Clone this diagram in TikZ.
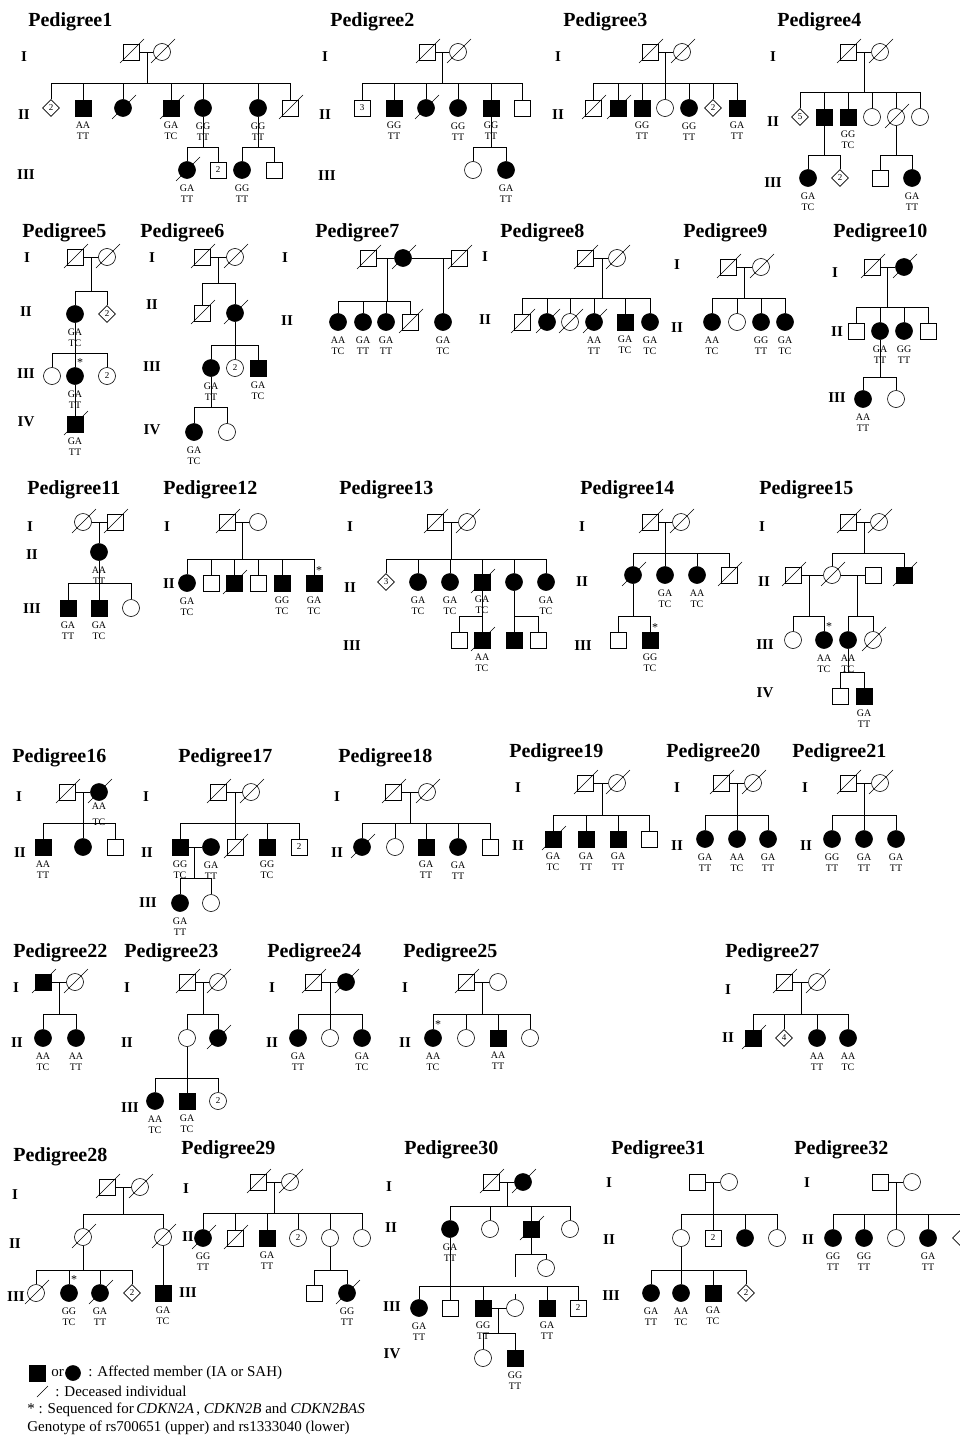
\documentclass[tikz,border=0pt]{standalone}
\usepackage{fontspec}
\setmainfont{Liberation Serif}
\usetikzlibrary{shapes.geometric}

\begin{document}
\begin{tikzpicture}[
    x=1pt, y=-1pt, line width=0.6pt,
    ttl/.style={anchor=west, inner sep=0pt, font=\fontsize{20}{20}\selectfont\bfseries},
    gen/.style={inner sep=0pt, font=\fontsize{15}{15}\selectfont\bfseries},
    ind/.style={draw, fill=white, inner sep=0pt, font=\fontsize{9}{9}\selectfont},
    m/.style={ind, rectangle, minimum size=16pt},
    f/.style={ind, circle, minimum size=17pt},
    u/.style={ind, diamond, minimum size=17pt},
    aff/.style={fill=black},
    gt/.style={inner sep=0pt, yshift=-5.5pt, align=center, font=\fontsize{10}{11}\selectfont},
    g/.style 2 args={label={[gt]below:#1\\#2}},
    st/.style={label={[inner sep=0pt, xshift=5pt, font=\fontsize{12}{12}\selectfont]above:*}},
    lg/.style={anchor=west, inner sep=0pt, font=\fontsize{15}{15}\selectfont}]
\fill[white] (0,0) rectangle (959,1437);
\useasboundingbox (0,0) rectangle (959,1437);

% ---------- Pedigree 1
\node[ttl] (t1) at (28,22) {Pedigree1};
\node[gen] (p1l1) at (24,57) {I};
\node[gen] (p1l2) at (24,115) {II};
\node[gen] (p1l3) at (26,175) {III};
\node[m] (p1a1) at (131,52) {};
\node[f] (p1a2) at (162,52) {};
\node[u] (p1b1) at (51,108) {2};
\node[m, aff, g={AA}{TT}] (p1b2) at (83,108) {};
\node[f, aff] (p1b3) at (123,108) {};
\node[m, aff, g={GA}{TC}] (p1b4) at (171,108) {};
\node[f, aff, g={GG}{TT}] (p1b5) at (203,108) {};
\node[f, aff, g={GG}{TT}] (p1b6) at (258,108) {};
\node[m] (p1b7) at (290,108) {};
\node[f, aff, g={GA}{TT}] (p1c1) at (187,170) {};
\node[m] (p1c2) at (218,170) {2};
\node[f, aff, g={GG}{TT}] (p1c3) at (242,170) {};
\node[m] (p1c4) at (274,170) {};
\coordinate (p1s1) at (147,83);
\coordinate (p1s2) at (203,147);
\coordinate (p1s3) at (258,147);
\draw (p1a1) -- (p1a2);
\draw (p1s1) -- (p1s1 |- p1a1);
\foreach \ch in {p1b1,p1b2,p1b3,p1b4,p1b5,p1b6,p1b7} \draw (\ch) |- (p1s1);
\draw (p1b5) -- (p1s2);
\foreach \ch in {p1c1,p1c2} \draw (\ch) |- (p1s2);
\draw (p1b6) -- (p1s3);
\foreach \ch in {p1c3,p1c4} \draw (\ch) |- (p1s3);
\foreach \d in {p1a1,p1a2,p1b3,p1b4,p1b7,p1c1} \draw (\d.center) ++(-11,11) -- ++(24,-24);

% ---------- Pedigree 2
\node[ttl] (t2) at (330,22) {Pedigree2};
\node[gen] (p2l1) at (325,57) {I};
\node[gen] (p2l2) at (325,115) {II};
\node[gen] (p2l3) at (327,176) {III};
\node[m] (p2a1) at (427,52) {};
\node[f] (p2a2) at (458,52) {};
\node[m] (p2b1) at (362,108) {3};
\node[m, aff, g={GG}{TT}] (p2b2) at (394,108) {};
\node[f, aff] (p2b3) at (426,108) {};
\node[f, aff, g={GG}{TT}] (p2b4) at (458,108) {};
\node[m, aff, g={GG}{TT}] (p2b5) at (491,108) {};
\node[m] (p2b6) at (522,108) {};
\node[f] (p2c1) at (473,170) {};
\node[f, aff, g={GA}{TT}] (p2c2) at (506,170) {};
\coordinate (p2s1) at (442,83);
\coordinate (p2s2) at (491,147);
\draw (p2a1) -- (p2a2);
\draw (p2s1) -- (p2s1 |- p2a1);
\foreach \ch in {p2b1,p2b2,p2b3,p2b4,p2b5,p2b6} \draw (\ch) |- (p2s1);
\draw (p2b5) -- (p2s2);
\foreach \ch in {p2c1,p2c2} \draw (\ch) |- (p2s2);
\foreach \d in {p2a1,p2a2,p2b3} \draw (\d.center) ++(-11,11) -- ++(24,-24);

% ---------- Pedigree 3
\node[ttl] (t3) at (563,22) {Pedigree3};
\node[gen] (p3l1) at (558,57) {I};
\node[gen] (p3l2) at (558,115) {II};
\node[m] (p3a1) at (650,52) {};
\node[f] (p3a2) at (682,52) {};
\node[m] (p3b1) at (593,108) {};
\node[m, aff] (p3b2) at (618,108) {};
\node[m, aff, g={GG}{TT}] (p3b3) at (642,108) {};
\node[f] (p3b4) at (665,108) {};
\node[f, aff, g={GG}{TT}] (p3b5) at (689,108) {};
\node[u] (p3b6) at (713,108) {2};
\node[m, aff, g={GA}{TT}] (p3b7) at (737,108) {};
\coordinate (p3s1) at (665,83);
\draw (p3a1) -- (p3a2);
\draw (p3s1) -- (p3s1 |- p3a1);
\foreach \ch in {p3b1,p3b2,p3b3,p3b4,p3b5,p3b6,p3b7} \draw (\ch) |- (p3s1);
\foreach \d in {p3a1,p3a2,p3b1,p3b2} \draw (\d.center) ++(-11,11) -- ++(24,-24);

% ---------- Pedigree 4
\node[ttl] (t4) at (777,22) {Pedigree4};
\node[gen] (p4l1) at (773,57) {I};
\node[gen] (p4l2) at (773,122) {II};
\node[gen] (p4l3) at (773,183) {III};
\node[m] (p4a1) at (848,52) {};
\node[f] (p4a2) at (880,52) {};
\node[u] (p4b1) at (800,117) {5};
\node[m, aff] (p4b2) at (824,117) {};
\node[m, aff, g={GG}{TC}] (p4b3) at (848,117) {};
\node[f] (p4b4) at (872,117) {};
\node[f] (p4b5) at (896,117) {};
\node[f] (p4b6) at (920,117) {};
\node[f, aff, g={GA}{TC}] (p4c1) at (808,178) {};
\node[u] (p4c2) at (840,178) {2};
\node[m] (p4c3) at (880,178) {};
\node[f, aff, g={GA}{TT}] (p4c4) at (912,178) {};
\coordinate (p4s1) at (864,92);
\coordinate (p4s2) at (824,155);
\coordinate (p4s3) at (896,155);
\draw (p4a1) -- (p4a2);
\draw (p4s1) -- (p4s1 |- p4a1);
\foreach \ch in {p4b1,p4b2,p4b3,p4b4,p4b5,p4b6} \draw (\ch) |- (p4s1);
\draw (p4b2) -- (p4s2);
\foreach \ch in {p4c1,p4c2} \draw (\ch) |- (p4s2);
\draw (p4b5) -- (p4s3);
\foreach \ch in {p4c3,p4c4} \draw (\ch) |- (p4s3);
\foreach \d in {p4a1,p4a2,p4b5} \draw (\d.center) ++(-11,11) -- ++(24,-24);

% ---------- Pedigree 5
\node[ttl] (t5) at (22,233) {Pedigree5};
\node[gen] (p5l1) at (27,258) {I};
\node[gen] (p5l2) at (26,312) {II};
\node[gen] (p5l3) at (26,374) {III};
\node[gen] (p5l4) at (26,422) {IV};
\node[m] (p5a1) at (75,257) {};
\node[f] (p5a2) at (107,257) {};
\node[f, aff, g={GA}{TC}] (p5b1) at (75,314) {};
\node[u] (p5b2) at (107,314) {2};
\node[f] (p5c1) at (52,376) {};
\node[f, aff, st, g={GA}{TT}] (p5c2) at (75,376) {};
\node[f] (p5c3) at (107,376) {2};
\node[m, aff, g={GA}{TT}] (p5d1) at (75,424) {};
\coordinate (p5s1) at (91,291);
\coordinate (p5s2) at (75,353);
\draw (p5a1) -- (p5a2);
\draw (p5s1) -- (p5s1 |- p5a1);
\foreach \ch in {p5b1,p5b2} \draw (\ch) |- (p5s1);
\draw (p5b1) -- (p5s2);
\foreach \ch in {p5c1,p5c2,p5c3} \draw (\ch) |- (p5s2);
\draw (p5c2) -- (p5d1);
\foreach \d in {p5a1,p5a2,p5d1} \draw (\d.center) ++(-11,11) -- ++(24,-24);

% ---------- Pedigree 6
\node[ttl] (t6) at (140,233) {Pedigree6};
\node[gen] (p6l1) at (152,258) {I};
\node[gen] (p6l2) at (152,305) {II};
\node[gen] (p6l3) at (152,367) {III};
\node[gen] (p6l4) at (152,430) {IV};
\node[m] (p6a1) at (202,257) {};
\node[f] (p6a2) at (235,257) {};
\node[m] (p6b1) at (202,313) {};
\node[f, aff] (p6b2) at (235,313) {};
\node[f, aff, g={GA}{TT}] (p6c1) at (211,368) {};
\node[f] (p6c2) at (235,368) {2};
\node[m, aff, g={GA}{TC}] (p6c3) at (258,368) {};
\node[f, aff, g={GA}{TC}] (p6d1) at (194,432) {};
\node[f] (p6d2) at (227,432) {};
\coordinate (p6s1) at (218,283);
\coordinate (p6s2) at (235,345);
\coordinate (p6s3) at (211,407);
\draw (p6a1) -- (p6a2);
\draw (p6s1) -- (p6s1 |- p6a1);
\foreach \ch in {p6b1,p6b2} \draw (\ch) |- (p6s1);
\draw (p6b2) -- (p6s2);
\foreach \ch in {p6c1,p6c2,p6c3} \draw (\ch) |- (p6s2);
\draw (p6c1) -- (p6s3);
\foreach \ch in {p6d1,p6d2} \draw (\ch) |- (p6s3);
\foreach \d in {p6a1,p6a2,p6b1,p6b2} \draw (\d.center) ++(-11,11) -- ++(24,-24);

% ---------- Pedigree 7
\node[ttl] (t7) at (315,233) {Pedigree7};
\node[gen] (p7l1) at (285,258) {I};
\node[gen] (p7l2) at (287,321) {II};
\node[m] (p7a1) at (368,258) {};
\node[f, aff] (p7a2) at (403,258) {};
\node[m] (p7a3) at (459,258) {};
\node[f, aff, g={AA}{TC}] (p7b1) at (338,322) {};
\node[f, aff, g={GA}{TT}] (p7b2) at (363,322) {};
\node[f, aff, g={GA}{TT}] (p7b3) at (386,322) {};
\node[m] (p7b4) at (410,322) {};
\node[f, aff, g={GA}{TC}] (p7b5) at (443,322) {};
\coordinate (p7s1) at (387,301);
\draw (p7a1) -- (p7a2);
\draw (p7a2) -- (p7a3);
\draw (p7s1) -- (p7s1 |- p7a1);
\foreach \ch in {p7b1,p7b2,p7b3,p7b4} \draw (\ch) |- (p7s1);
\draw (p7b5) -- (p7b5 |- p7a3);
\foreach \d in {p7a1,p7a2,p7a3,p7b4} \draw (\d.center) ++(-11,11) -- ++(24,-24);

% ---------- Pedigree 8
\node[ttl] (t8) at (500,233) {Pedigree8};
\node[gen] (p8l1) at (485,257) {I};
\node[gen] (p8l2) at (485,320) {II};
\node[m] (p8a1) at (585,258) {};
\node[f] (p8a2) at (617,258) {};
\node[m] (p8b1) at (522,322) {};
\node[f, aff] (p8b2) at (547,322) {};
\node[f] (p8b3) at (570,322) {};
\node[f, aff, g={AA}{TT}] (p8b4) at (594,322) {};
\node[m, aff, g={GA}{TC}] (p8b5) at (625,322) {};
\node[f, aff, g={GA}{TC}] (p8b6) at (650,322) {};
\coordinate (p8s1) at (602,298);
\draw (p8a1) -- (p8a2);
\draw (p8s1) -- (p8s1 |- p8a1);
\foreach \ch in {p8b1,p8b2,p8b3,p8b4,p8b5,p8b6} \draw (\ch) |- (p8s1);
\foreach \d in {p8a1,p8a2,p8b1,p8b2,p8b3,p8b4} \draw (\d.center) ++(-11,11) -- ++(24,-24);

% ---------- Pedigree 9
\node[ttl] (t9) at (683,233) {Pedigree9};
\node[gen] (p9l1) at (677,265) {I};
\node[gen] (p9l2) at (677,328) {II};
\node[m] (p9a1) at (728,267) {};
\node[f] (p9a2) at (761,267) {};
\node[f, aff, g={AA}{TC}] (p9b1) at (712,322) {};
\node[f] (p9b2) at (737,322) {};
\node[f, aff, g={GG}{TT}] (p9b3) at (761,322) {};
\node[f, aff, g={GA}{TC}] (p9b4) at (785,322) {};
\coordinate (p9s1) at (744,298);
\draw (p9a1) -- (p9a2);
\draw (p9s1) -- (p9s1 |- p9a1);
\foreach \ch in {p9b1,p9b2,p9b3,p9b4} \draw (\ch) |- (p9s1);
\foreach \d in {p9a1,p9a2} \draw (\d.center) ++(-11,11) -- ++(24,-24);

% ---------- Pedigree 10
\node[ttl] (t10) at (833,233) {Pedigree10};
\node[gen] (p10l1) at (835,273) {I};
\node[gen] (p10l2) at (837,332) {II};
\node[gen] (p10l3) at (837,398) {III};
\node[m] (p10a1) at (872,267) {};
\node[f, aff] (p10a2) at (904,267) {};
\node[m] (p10b1) at (856,331) {};
\node[f, aff, g={GA}{TT}] (p10b2) at (880,331) {};
\node[f, aff, g={GG}{TT}] (p10b3) at (904,331) {};
\node[m] (p10b4) at (928,331) {};
\node[f, aff, g={AA}{TT}] (p10c1) at (863,399) {};
\node[f] (p10c2) at (896,399) {};
\coordinate (p10s1) at (887,307);
\coordinate (p10s2) at (880,377);
\draw (p10a1) -- (p10a2);
\draw (p10s1) -- (p10s1 |- p10a1);
\foreach \ch in {p10b1,p10b2,p10b3,p10b4} \draw (\ch) |- (p10s1);
\draw (p10b2) -- (p10s2);
\foreach \ch in {p10c1,p10c2} \draw (\ch) |- (p10s2);
\foreach \d in {p10a1,p10a2} \draw (\d.center) ++(-11,11) -- ++(24,-24);

% ---------- Pedigree 11
\node[ttl] (t11) at (27,490) {Pedigree11};
\node[gen] (p11l1) at (30,527) {I};
\node[gen] (p11l2) at (32,555) {II};
\node[gen] (p11l3) at (32,609) {III};
\node[f] (p11a1) at (83,522) {};
\node[m] (p11a2) at (115,522) {};
\node[f, aff, g={AA}{TT}] (p11b1) at (99,552) {};
\node[m, aff, g={GA}{TT}] (p11c1) at (68,608) {};
\node[m, aff, g={GA}{TC}] (p11c2) at (99,608) {};
\node[f] (p11c3) at (131,608) {};
\coordinate (p11s1) at (99,583);
\draw (p11a1) -- (p11a2);
\draw (p11b1) -- (p11b1 |- p11a1);
\draw (p11b1) -- (p11s1);
\foreach \ch in {p11c1,p11c2,p11c3} \draw (\ch) |- (p11s1);
\foreach \d in {p11a1,p11a2} \draw (\d.center) ++(-11,11) -- ++(24,-24);

% ---------- Pedigree 12
\node[ttl] (t12) at (163,490) {Pedigree12};
\node[gen] (p12l1) at (167,527) {I};
\node[gen] (p12l2) at (169,584) {II};
\node[m] (p12a1) at (227,522) {};
\node[f] (p12a2) at (258,522) {};
\node[f, aff, g={GA}{TC}] (p12b1) at (187,583) {};
\node[m] (p12b2) at (211,583) {};
\node[m, aff] (p12b3) at (234,583) {};
\node[m] (p12b4) at (258,583) {};
\node[m, aff, g={GG}{TC}] (p12b5) at (282,583) {};
\node[m, aff, st, g={GA}{TC}] (p12b6) at (314,583) {};
\coordinate (p12s1) at (242,559);
\draw (p12a1) -- (p12a2);
\draw (p12s1) -- (p12s1 |- p12a1);
\foreach \ch in {p12b1,p12b2,p12b3,p12b4,p12b5,p12b6} \draw (\ch) |- (p12s1);
\foreach \d in {p12a1,p12b3} \draw (\d.center) ++(-11,11) -- ++(24,-24);

% ---------- Pedigree 13
\node[ttl] (t13) at (339,490) {Pedigree13};
\node[gen] (p13l1) at (350,527) {I};
\node[gen] (p13l2) at (350,588) {II};
\node[gen] (p13l3) at (352,646) {III};
\node[m] (p13a1) at (435,522) {};
\node[f] (p13a2) at (467,522) {};
\node[u] (p13b1) at (386,582) {3};
\node[f, aff, g={GA}{TC}] (p13b2) at (418,582) {};
\node[f, aff, g={GA}{TC}] (p13b3) at (450,582) {};
\node[m, aff, g={GA}{TC}] (p13b4) at (482,582) {};
\node[f, aff] (p13b5) at (514,582) {};
\node[f, aff, g={GA}{TC}] (p13b6) at (546,582) {};
\node[m] (p13c1) at (459,640) {};
\node[m, aff, g={AA}{TC}] (p13c2) at (482,640) {};
\node[m, aff] (p13c3) at (514,640) {};
\node[m] (p13c4) at (538,640) {};
\coordinate (p13s1) at (451,559);
\coordinate (p13s2) at (482,616);
\coordinate (p13s3) at (514,616);
\draw (p13a1) -- (p13a2);
\draw (p13s1) -- (p13s1 |- p13a1);
\foreach \ch in {p13b1,p13b2,p13b3,p13b4,p13b5,p13b6} \draw (\ch) |- (p13s1);
\draw (p13b4) -- (p13s2);
\foreach \ch in {p13c1,p13c2} \draw (\ch) |- (p13s2);
\draw (p13b5) -- (p13s3);
\foreach \ch in {p13c3,p13c4} \draw (\ch) |- (p13s3);
\foreach \d in {p13a1,p13a2,p13b4,p13c2} \draw (\d.center) ++(-11,11) -- ++(24,-24);

% ---------- Pedigree 14
\node[ttl] (t14) at (580,490) {Pedigree14};
\node[gen] (p14l1) at (582,527) {I};
\node[gen] (p14l2) at (582,582) {II};
\node[gen] (p14l3) at (583,646) {III};
\node[m] (p14a1) at (650,522) {};
\node[f] (p14a2) at (681,522) {};
\node[f, aff] (p14b1) at (633,575) {};
\node[f, aff, g={GA}{TC}] (p14b2) at (665,575) {};
\node[f, aff, g={AA}{TC}] (p14b3) at (697,575) {};
\node[m] (p14b4) at (729,575) {};
\node[m] (p14c1) at (618,640) {};
\node[m, aff, st, g={GG}{TC}] (p14c2) at (650,640) {};
\coordinate (p14s1) at (665,553);
\coordinate (p14s2) at (633,616);
\draw (p14a1) -- (p14a2);
\draw (p14s1) -- (p14s1 |- p14a1);
\foreach \ch in {p14b1,p14b2,p14b3,p14b4} \draw (\ch) |- (p14s1);
\draw (p14b1) -- (p14s2);
\foreach \ch in {p14c1,p14c2} \draw (\ch) |- (p14s2);
\foreach \d in {p14a1,p14a2,p14b1,p14b4} \draw (\d.center) ++(-11,11) -- ++(24,-24);

% ---------- Pedigree 15
\node[ttl] (t15) at (759,490) {Pedigree15};
\node[gen] (p15l1) at (762,527) {I};
\node[gen] (p15l2) at (764,582) {II};
\node[gen] (p15l3) at (765,645) {III};
\node[gen] (p15l4) at (765,693) {IV};
\node[m] (p15a1) at (848,522) {};
\node[f] (p15a2) at (879,522) {};
\node[m] (p15b1) at (793,575) {};
\node[f] (p15b2) at (832,575) {};
\node[m] (p15b3) at (873,575) {};
\node[m, aff] (p15b4) at (904,575) {};
\node[f] (p15c1) at (793,640) {};
\node[f, aff, st, g={AA}{TC}] (p15c2) at (824,640) {};
\node[f, aff, g={AA}{TC}] (p15c3) at (848,640) {};
\node[f] (p15c4) at (873,640) {};
\node[m] (p15d1) at (840,696) {};
\node[m, aff, g={GA}{TT}] (p15d2) at (864,696) {};
\coordinate (p15s1) at (864,553);
\coordinate (p15s2) at (809,616);
\coordinate (p15s3) at (857,616);
\coordinate (p15s4) at (848,672);
\draw (p15a1) -- (p15a2);
\draw (p15s1) -- (p15s1 |- p15a1);
\foreach \ch in {p15b2,p15b4} \draw (\ch) |- (p15s1);
\draw (p15b1) -- (p15b2);
\draw (p15b2) -- (p15b3);
\draw (p15s2) -- (p15s2 |- p15b1);
\foreach \ch in {p15c1,p15c2} \draw (\ch) |- (p15s2);
\draw (p15s3) -- (p15s3 |- p15b3);
\foreach \ch in {p15c3,p15c4} \draw (\ch) |- (p15s3);
\draw (p15c3) -- (p15s4);
\foreach \ch in {p15d1,p15d2} \draw (\ch) |- (p15s4);
\foreach \d in {p15a1,p15a2,p15b1,p15b2,p15b4,p15c4} \draw (\d.center) ++(-11,11) -- ++(24,-24);

% ---------- Pedigree 16
\node[ttl] (t16) at (12,758) {Pedigree16};
\node[gen] (p16l1) at (19,797) {I};
\node[gen] (p16l2) at (20,853) {II};
\node[m] (p16a1) at (67,792) {};
\node[f, aff, label={[gt, yshift=4pt]below:AA\\[5pt]TC}] (p16a2) at (99,792) {};
\node[m, aff, g={AA}{TT}] (p16b1) at (43,847) {};
\node[f, aff] (p16b2) at (83,847) {};
\node[m] (p16b3) at (115,847) {};
\coordinate (p16s1) at (83,823);
\draw (p16a1) -- (p16a2);
\draw (p16s1) -- (p16s1 |- p16a1);
\foreach \ch in {p16b1,p16b2,p16b3} \draw (\ch) |- (p16s1);
\foreach \d in {p16a1,p16a2} \draw (\d.center) ++(-11,11) -- ++(24,-24);

% ---------- Pedigree 17
\node[ttl] (t17) at (178,758) {Pedigree17};
\node[gen] (p17l1) at (146,797) {I};
\node[gen] (p17l2) at (147,853) {II};
\node[gen] (p17l3) at (148,903) {III};
\node[m] (p17a1) at (218,792) {};
\node[f] (p17a2) at (251,792) {};
\node[m, aff, g={GG}{TC}] (p17b1) at (180,847) {};
\node[f, aff, g={GA}{TT}] (p17b2) at (211,847) {};
\node[m] (p17b3) at (235,847) {};
\node[m, aff, g={GG}{TC}] (p17b4) at (267,847) {};
\node[m] (p17b5) at (299,847) {2};
\node[f, aff, g={GA}{TT}] (p17c1) at (180,903) {};
\node[f] (p17c2) at (211,903) {};
\coordinate (p17s1) at (235,823);
\coordinate (p17s2) at (194,878);
\draw (p17a1) -- (p17a2);
\draw (p17s1) -- (p17s1 |- p17a1);
\foreach \ch in {p17b1,p17b3,p17b4,p17b5} \draw (\ch) |- (p17s1);
\draw (p17b1) -- (p17b2);
\draw (p17s2) -- (p17s2 |- p17b1);
\foreach \ch in {p17c1,p17c2} \draw (\ch) |- (p17s2);
\foreach \d in {p17a1,p17a2,p17b3} \draw (\d.center) ++(-11,11) -- ++(24,-24);

% ---------- Pedigree 18
\node[ttl] (t18) at (338,758) {Pedigree18};
\node[gen] (p18l1) at (337,797) {I};
\node[gen] (p18l2) at (337,853) {II};
\node[m] (p18a1) at (393,792) {};
\node[f] (p18a2) at (427,792) {};
\node[f, aff] (p18b1) at (362,847) {};
\node[f] (p18b2) at (395,847) {};
\node[m, aff, g={GA}{TT}] (p18b3) at (426,847) {};
\node[f, aff, g={GA}{TT}] (p18b4) at (458,847) {};
\node[m] (p18b5) at (490,847) {};
\coordinate (p18s1) at (410,823);
\draw (p18a1) -- (p18a2);
\draw (p18s1) -- (p18s1 |- p18a1);
\foreach \ch in {p18b1,p18b2,p18b3,p18b4,p18b5} \draw (\ch) |- (p18s1);
\foreach \d in {p18a1,p18a2,p18b1} \draw (\d.center) ++(-11,11) -- ++(24,-24);

% ---------- Pedigree 19
\node[ttl] (t19) at (509,753) {Pedigree19};
\node[gen] (p19l1) at (518,788) {I};
\node[gen] (p19l2) at (518,846) {II};
\node[m] (p19a1) at (585,783) {};
\node[f] (p19a2) at (617,783) {};
\node[m, aff, g={GA}{TC}] (p19b1) at (553,839) {};
\node[m, aff, g={GA}{TT}] (p19b2) at (586,839) {};
\node[m, aff, g={GA}{TT}] (p19b3) at (618,839) {};
\node[m] (p19b4) at (649,839) {};
\coordinate (p19s1) at (602,815);
\draw (p19a1) -- (p19a2);
\draw (p19s1) -- (p19s1 |- p19a1);
\foreach \ch in {p19b1,p19b2,p19b3,p19b4} \draw (\ch) |- (p19s1);
\foreach \d in {p19a1,p19a2,p19b1} \draw (\d.center) ++(-11,11) -- ++(24,-24);

% ---------- Pedigree 20
\node[ttl] (t20) at (666,753) {Pedigree20};
\node[gen] (p20l1) at (677,788) {I};
\node[gen] (p20l2) at (677,846) {II};
\node[m] (p20a1) at (721,783) {};
\node[f] (p20a2) at (753,783) {};
\node[f, aff, g={GA}{TT}] (p20b1) at (705,839) {};
\node[f, aff, g={AA}{TC}] (p20b2) at (737,839) {};
\node[f, aff, g={GA}{TT}] (p20b3) at (768,839) {};
\coordinate (p20s1) at (737,815);
\draw (p20a1) -- (p20a2);
\draw (p20s1) -- (p20s1 |- p20a1);
\foreach \ch in {p20b1,p20b2,p20b3} \draw (\ch) |- (p20s1);
\foreach \d in {p20a1,p20a2} \draw (\d.center) ++(-11,11) -- ++(24,-24);

% ---------- Pedigree 21
\node[ttl] (t21) at (792,753) {Pedigree21};
\node[gen] (p21l1) at (805,788) {I};
\node[gen] (p21l2) at (806,846) {II};
\node[m] (p21a1) at (848,783) {};
\node[f] (p21a2) at (880,783) {};
\node[f, aff, g={GG}{TT}] (p21b1) at (832,839) {};
\node[f, aff, g={GA}{TT}] (p21b2) at (864,839) {};
\node[f, aff, g={GA}{TT}] (p21b3) at (896,839) {};
\coordinate (p21s1) at (864,815);
\draw (p21a1) -- (p21a2);
\draw (p21s1) -- (p21s1 |- p21a1);
\foreach \ch in {p21b1,p21b2,p21b3} \draw (\ch) |- (p21s1);
\foreach \d in {p21a1,p21a2} \draw (\d.center) ++(-11,11) -- ++(24,-24);

% ---------- Pedigree 22
\node[ttl] (t22) at (13,953) {Pedigree22};
\node[gen] (p22l1) at (16,988) {I};
\node[gen] (p22l2) at (17,1043) {II};
\node[m, aff] (p22a1) at (43,982) {};
\node[f] (p22a2) at (75,982) {};
\node[f, aff, g={AA}{TC}] (p22b1) at (43,1038) {};
\node[f, aff, g={AA}{TT}] (p22b2) at (76,1038) {};
\coordinate (p22s1) at (59,1014);
\draw (p22a1) -- (p22a2);
\draw (p22s1) -- (p22s1 |- p22a1);
\foreach \ch in {p22b1,p22b2} \draw (\ch) |- (p22s1);
\foreach \d in {p22a1,p22a2} \draw (\d.center) ++(-11,11) -- ++(24,-24);

% ---------- Pedigree 23
\node[ttl] (t23) at (124,953) {Pedigree23};
\node[gen] (p23l1) at (127,988) {I};
\node[gen] (p23l2) at (127,1043) {II};
\node[gen] (p23l3) at (130,1108) {III};
\node[m] (p23a1) at (187,982) {};
\node[f] (p23a2) at (218,982) {};
\node[f] (p23b1) at (187,1038) {};
\node[f, aff] (p23b2) at (218,1038) {};
\node[f, aff, g={AA}{TC}] (p23c1) at (155,1101) {};
\node[m, aff, g={GA}{TC}] (p23c2) at (187,1101) {};
\node[f] (p23c3) at (218,1101) {2};
\coordinate (p23s1) at (203,1014);
\coordinate (p23s2) at (187,1078);
\draw (p23a1) -- (p23a2);
\draw (p23s1) -- (p23s1 |- p23a1);
\foreach \ch in {p23b1,p23b2} \draw (\ch) |- (p23s1);
\draw (p23b1) -- (p23s2);
\foreach \ch in {p23c1,p23c2,p23c3} \draw (\ch) |- (p23s2);
\foreach \d in {p23a1,p23a2,p23b2} \draw (\d.center) ++(-11,11) -- ++(24,-24);

% ---------- Pedigree 24
\node[ttl] (t24) at (267,953) {Pedigree24};
\node[gen] (p24l1) at (272,988) {I};
\node[gen] (p24l2) at (272,1043) {II};
\node[m] (p24a1) at (313,982) {};
\node[f, aff] (p24a2) at (346,982) {};
\node[f, aff, g={GA}{TT}] (p24b1) at (298,1038) {};
\node[f] (p24b2) at (330,1038) {};
\node[f, aff, g={GA}{TC}] (p24b3) at (362,1038) {};
\coordinate (p24s1) at (330,1014);
\draw (p24a1) -- (p24a2);
\draw (p24s1) -- (p24s1 |- p24a1);
\foreach \ch in {p24b1,p24b2,p24b3} \draw (\ch) |- (p24s1);
\foreach \d in {p24a1,p24a2} \draw (\d.center) ++(-11,11) -- ++(24,-24);

% ---------- Pedigree 25
\node[ttl] (t25) at (403,953) {Pedigree25};
\node[gen] (p25l1) at (405,988) {I};
\node[gen] (p25l2) at (405,1043) {II};
\node[m] (p25a1) at (466,982) {};
\node[f] (p25a2) at (498,982) {};
\node[f, aff, st, g={AA}{TC}] (p25b1) at (433,1038) {};
\node[f] (p25b2) at (466,1038) {};
\node[m, aff, g={AA}{TT}] (p25b3) at (498,1038) {};
\node[f] (p25b4) at (530,1038) {};
\coordinate (p25s1) at (482,1014);
\draw (p25a1) -- (p25a2);
\draw (p25s1) -- (p25s1 |- p25a1);
\foreach \ch in {p25b1,p25b2,p25b3,p25b4} \draw (\ch) |- (p25s1);
\foreach \d in {p25a1} \draw (\d.center) ++(-11,11) -- ++(24,-24);

% ---------- Pedigree 27
\node[ttl] (t27) at (725,953) {Pedigree27};
\node[gen] (p27l1) at (728,990) {I};
\node[gen] (p27l2) at (728,1038) {II};
\node[m] (p27a1) at (784,982) {};
\node[f] (p27a2) at (817,982) {};
\node[m, aff] (p27b1) at (753,1038) {};
\node[u] (p27b2) at (784,1038) {4};
\node[f, aff, g={AA}{TT}] (p27b3) at (817,1038) {};
\node[f, aff, g={AA}{TC}] (p27b4) at (848,1038) {};
\coordinate (p27s1) at (801,1014);
\draw (p27a1) -- (p27a2);
\draw (p27s1) -- (p27s1 |- p27a1);
\foreach \ch in {p27b1,p27b2,p27b3,p27b4} \draw (\ch) |- (p27s1);
\foreach \d in {p27a1,p27a2,p27b1} \draw (\d.center) ++(-11,11) -- ++(24,-24);

% ---------- Pedigree 28
\node[ttl] (t28) at (13,1157) {Pedigree28};
\node[gen] (p28l1) at (15,1195) {I};
\node[gen] (p28l2) at (15,1244) {II};
\node[gen] (p28l3) at (16,1297) {III};
\node[m] (p28a1) at (107,1187) {};
\node[f] (p28a2) at (140,1187) {};
\node[f] (p28b1) at (83,1237) {};
\node[f] (p28b2) at (163,1237) {};
\node[f] (p28c1) at (36,1293) {};
\node[f, aff, st, g={GG}{TC}] (p28c2) at (69,1293) {};
\node[f, aff, g={GA}{TT}] (p28c3) at (100,1293) {};
\node[u] (p28c4) at (132,1293) {2};
\node[m, aff, g={GA}{TC}] (p28c5) at (163,1293) {};
\coordinate (p28s1) at (123,1214);
\coordinate (p28s2) at (83,1270);
\draw (p28a1) -- (p28a2);
\draw (p28s1) -- (p28s1 |- p28a1);
\foreach \ch in {p28b1,p28b2} \draw (\ch) |- (p28s1);
\draw (p28b1) -- (p28s2);
\foreach \ch in {p28c1,p28c2,p28c3,p28c4} \draw (\ch) |- (p28s2);
\draw (p28b2) -- (p28c5);
\foreach \d in {p28a1,p28a2,p28b1,p28b2,p28c1,p28c3} \draw (\d.center) ++(-11,11) -- ++(24,-24);

% ---------- Pedigree 29
\node[ttl] (t29) at (181,1150) {Pedigree29};
\node[gen] (p29l1) at (186,1189) {I};
\node[gen] (p29l2) at (188,1237) {II};
\node[gen] (p29l3) at (188,1293) {III};
\node[m] (p29a1) at (258,1182) {};
\node[f] (p29a2) at (290,1182) {};
\node[f, aff, g={GG}{TT}] (p29b1) at (203,1238) {};
\node[m] (p29b2) at (235,1238) {};
\node[m, aff, g={GA}{TT}] (p29b3) at (267,1238) {};
\node[f] (p29b4) at (298,1238) {2};
\node[f] (p29b5) at (330,1238) {};
\node[f] (p29b6) at (362,1238) {};
\node[m] (p29c1) at (314,1293) {};
\node[f, aff, g={GG}{TT}] (p29c2) at (347,1293) {};
\coordinate (p29s1) at (274,1213);
\coordinate (p29s2) at (330,1270);
\draw (p29a1) -- (p29a2);
\draw (p29s1) -- (p29s1 |- p29a1);
\foreach \ch in {p29b1,p29b2,p29b3,p29b4,p29b5,p29b6} \draw (\ch) |- (p29s1);
\draw (p29b5) -- (p29s2);
\foreach \ch in {p29c1,p29c2} \draw (\ch) |- (p29s2);
\foreach \d in {p29a1,p29a2,p29b1,p29b2,p29c2} \draw (\d.center) ++(-11,11) -- ++(24,-24);

% ---------- Pedigree 30
\node[ttl] (t30) at (404,1150) {Pedigree30};
\node[gen] (p30l1) at (389,1187) {I};
\node[gen] (p30l2) at (391,1228) {II};
\node[gen] (p30l3) at (392,1307) {III};
\node[gen] (p30l4) at (392,1354) {IV};
\node[m] (p30a1) at (491,1182) {};
\node[f, aff] (p30a2) at (523,1182) {};
\node[f, aff, g={GA}{TT}] (p30b1) at (450,1229) {};
\node[f] (p30b2) at (490,1229) {};
\node[m, aff] (p30b3) at (531,1229) {};
\node[f] (p30b4) at (570,1229) {};
\node[f] (p30c7) at (546,1268) {};
\node[f, aff, g={GA}{TT}] (p30c1) at (419,1308) {};
\node[m] (p30c2) at (450,1308) {};
\node[m, aff, g={GG}{TT}] (p30c3) at (483,1308) {};
\node[f] (p30c4) at (515,1308) {};
\node[m, aff, g={GA}{TT}] (p30c5) at (547,1308) {};
\node[m] (p30c6) at (578,1308) {2};
\node[f] (p30d1) at (483,1358) {};
\node[m, aff, g={GG}{TT}] (p30d2) at (515,1358) {};
\coordinate (p30s1) at (507,1206);
\coordinate (p30s2) at (531,1254);
\coordinate (p30s3) at (450,1286);
\coordinate (p30s4) at (498,1333);
\coordinate (p30h1) at (515,1277);
\coordinate (p30h2) at (515,1294);
\draw (p30a1) -- (p30a2);
\draw (p30s1) -- (p30s1 |- p30a1);
\foreach \ch in {p30b1,p30b2,p30b3,p30b4} \draw (\ch) |- (p30s1);
\draw (p30b3) -- (p30s2);
\draw (p30c7) |- (p30s2);
\draw (p30s2) -| (p30h1);
\draw (p30h2) -- (p30c4);
\draw (p30b1) -- (p30s3);
\foreach \ch in {p30c1,p30c2,p30c3,p30c5,p30c6} \draw (\ch) |- (p30s3);
\draw (p30c3) -- (p30c4);
\draw (p30s4) -- (p30s4 |- p30c3);
\foreach \ch in {p30d1,p30d2} \draw (\ch) |- (p30s4);
\foreach \d in {p30a1,p30a2,p30b3} \draw (\d.center) ++(-11,11) -- ++(24,-24);

% ---------- Pedigree 31
\node[ttl] (t31) at (611,1150) {Pedigree31};
\node[gen] (p31l1) at (609,1183) {I};
\node[gen] (p31l2) at (609,1240) {II};
\node[gen] (p31l3) at (611,1296) {III};
\node[m] (p31a1) at (697,1182) {};
\node[f] (p31a2) at (729,1182) {};
\node[f] (p31b1) at (681,1238) {};
\node[m] (p31b2) at (713,1238) {2};
\node[f, aff] (p31b3) at (745,1238) {};
\node[f] (p31b4) at (777,1238) {};
\node[f, aff, g={GA}{TT}] (p31c1) at (651,1293) {};
\node[f, aff, g={AA}{TC}] (p31c2) at (681,1293) {};
\node[m, aff, g={GA}{TC}] (p31c3) at (713,1293) {};
\node[u] (p31c4) at (746,1293) {2};
\coordinate (p31s1) at (713,1214);
\coordinate (p31s2) at (681,1270);
\draw (p31a1) -- (p31a2);
\draw (p31s1) -- (p31s1 |- p31a1);
\foreach \ch in {p31b1,p31b2,p31b3,p31b4} \draw (\ch) |- (p31s1);
\draw (p31b1) -- (p31s2);
\foreach \ch in {p31c1,p31c2,p31c3,p31c4} \draw (\ch) |- (p31s2);

% ---------- Pedigree 32
\node[ttl] (t32) at (794,1150) {Pedigree32};
\node[gen] (p32l1) at (807,1183) {I};
\node[gen] (p32l2) at (808,1240) {II};
\node[m] (p32a1) at (880,1182) {};
\node[f] (p32a2) at (912,1182) {};
\node[f, aff, g={GG}{TT}] (p32b1) at (833,1238) {};
\node[f, aff, g={GG}{TT}] (p32b2) at (864,1238) {};
\node[f] (p32b3) at (896,1238) {};
\node[f, aff, g={GA}{TT}] (p32b4) at (928,1238) {};
\node[u] (p32b5) at (961,1238) {};
\coordinate (p32s1) at (896,1214);
\draw (p32a1) -- (p32a2);
\draw (p32s1) -- (p32s1 |- p32a1);
\foreach \ch in {p32b1,p32b2,p32b3,p32b4,p32b5} \draw (\ch) |- (p32s1);

% ---------- legend
\node[m, aff] (lgm) at (37,1373) {};
\node[lg] (lgor) at (51,1373) {or};
\node[f, aff, minimum size=15pt] (lgf) at (73,1373) {};
\node[lg] (lg1) at (88,1373) {: Affected member (IA or SAH)};
\draw (37,1397) -- (48,1386);
\node[lg] (lg2) at (55,1391) {: Deceased individual};
\node[lg] (lg3) at (27,1410) {* : Sequenced for\,\textit{CDKN2A}\,, \textit{CDKN2B} and \textit{CDKN2BAS}};
\node[lg] (lg4) at (27,1428) {Genotype of rs700651 (upper) and rs1333040 (lower)};
\end{tikzpicture}
\end{document}
